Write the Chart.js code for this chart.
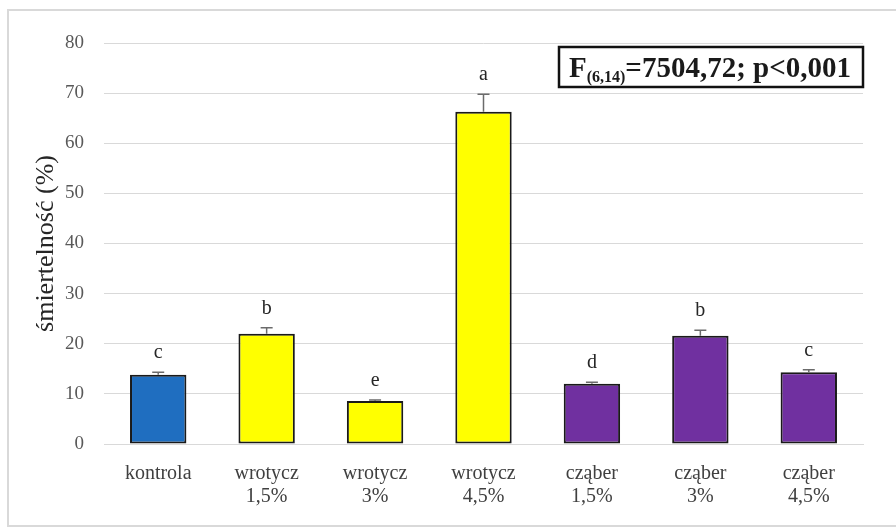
<!DOCTYPE html>
<html>
<head>
<meta charset="utf-8">
<script src="https://cdn.jsdelivr.net/npm/chart.js@4/dist/chart.umd.min.js"></script>
<style>
  html, body { margin: 0; padding: 0; background: #ffffff; }
  #wrap { width: 896px; height: 529px; position: relative; }
</style>
</head>
<body>
<div id="wrap"><canvas id="c" width="896" height="529"></canvas></div>
<script>
// Treatment groups (two-line labels)
const categories = [
  ['kontrola'],
  ['wrotycz', '1,5%'],
  ['wrotycz', '3%'],
  ['wrotycz', '4,5%'],
  ['cząber', '1,5%'],
  ['cząber', '3%'],
  ['cząber', '4,5%']
];
// Mean mortality (%) and upper error (SD)
const mortality = [13.8, 22.0, 8.6, 66.3, 12.0, 21.6, 14.3];
const errors = [0.5, 1.2, 0.2, 3.5, 0.3, 1.1, 0.5];
// Homogeneous group letters
const groupLetters = ['c', 'b', 'e', 'a', 'd', 'b', 'c'];
const yTicks = [0, 10, 20, 30, 40, 50, 60, 70, 80];
const barColors = ['#1F6EC0', '#FFFF00', '#FFFF00', '#FFFF00', '#7030A0', '#7030A0', '#7030A0'];
const statText = { main: 'F', sub: '(6,14)', rest: '=7504,72; p<0,001' };

const SERIF = '"Liberation Serif", "Times New Roman", serif';

// Outer frame of the figure
const framePlugin = {
  id: 'frame',
  beforeDraw(chart) {
    const ctx = chart.ctx;
    ctx.save();
    ctx.fillStyle = '#ffffff';
    ctx.fillRect(0, 0, chart.width, chart.height);
    ctx.strokeStyle = '#d9d9d9';
    ctx.lineWidth = 2;
    ctx.strokeRect(8, 10, chart.width + 10, 516);
    ctx.restore();
  }
};

// Upper error caps and group letters above each bar
const errorPlugin = {
  id: 'errors',
  afterDatasetsDraw(chart) {
    const ctx = chart.ctx;
    const meta = chart.getDatasetMeta(0);
    const y = chart.scales.y;
    ctx.save();
    meta.data.forEach((bar, i) => {
      const top = y.getPixelForValue(mortality[i]);
      const capY = y.getPixelForValue(mortality[i] + errors[i]);
      ctx.strokeStyle = '#6b6b6b';
      ctx.lineWidth = 1.5;
      ctx.beginPath();
      ctx.moveTo(bar.x, top);
      ctx.lineTo(bar.x, capY);
      ctx.moveTo(bar.x - 6, capY);
      ctx.lineTo(bar.x + 6, capY);
      ctx.stroke();
      ctx.fillStyle = '#262626';
      ctx.font = '20px ' + SERIF;
      ctx.textAlign = 'center';
      ctx.textBaseline = 'alphabetic';
      ctx.fillText(groupLetters[i], bar.x, capY - 14);
    });
    ctx.restore();
  }
};

// Statistics box in the upper right corner
const statPlugin = {
  id: 'stat',
  afterDraw(chart) {
    const ctx = chart.ctx;
    const area = chart.chartArea;
    const bx = area.right - 304, by = area.top + 4, bw = 304, bh = 40;
    ctx.save();
    ctx.fillStyle = '#ffffff';
    ctx.fillRect(bx, by, bw, bh);
    ctx.strokeStyle = '#111111';
    ctx.lineWidth = 2.5;
    ctx.strokeRect(bx, by, bw, bh);
    ctx.fillStyle = '#1a1a1a';
    ctx.textBaseline = 'alphabetic';
    ctx.textAlign = 'left';
    let x = bx + 10;
    const base = by + 30;
    ctx.font = 'bold 29px ' + SERIF;
    ctx.fillText(statText.main, x, base);
    x += ctx.measureText(statText.main).width;
    ctx.font = 'bold 16px ' + SERIF;
    ctx.fillText(statText.sub, x, base + 5);
    x += ctx.measureText(statText.sub).width;
    ctx.font = 'bold 29px ' + SERIF;
    ctx.fillText(statText.rest, x, base);
    ctx.restore();
  }
};

new Chart(document.getElementById('c'), {
  type: 'bar',
  data: {
    labels: categories,
    datasets: [{
      data: mortality,
      backgroundColor: barColors,
      borderColor: '#1a1a1a',
      borderWidth: 2,
      borderSkipped: false,
      categoryPercentage: 1.0,
      barPercentage: 0.52
    }]
  },
  options: {
    responsive: false,
    animation: false,
    devicePixelRatio: 1,
    layout: { padding: { left: 31, right: 33, top: 43, bottom: 0 } },
    plugins: { legend: { display: false }, tooltip: { enabled: false } },
    scales: {
      x: {
        grid: { display: false },
        border: { display: true, color: '#d9d9d9', width: 1 },
        ticks: {
          color: '#404040',
          font: { family: SERIF, size: 20, lineHeight: 1.15 },
          padding: 10,
          maxRotation: 0,
          autoSkip: false
        },
        afterFit(scale) { scale.height = 85; }
      },
      y: {
        min: 0,
        max: 80,
        afterBuildTicks(scale) { scale.ticks = yTicks.map(v => ({ value: v })); },
        grid: { color: '#d9d9d9', lineWidth: 1, drawTicks: false },
        border: { display: false },
        ticks: {
          color: '#595959',
          font: { family: SERIF, size: 19 },
          padding: 20
        },
        title: {
          display: true,
          text: 'śmiertelność (%)',
          color: '#262626',
          font: { family: SERIF, size: 26 },
          padding: { top: 0, bottom: 0 }
        },
        afterFit(scale) { scale.width = 73; }
      }
    }
  },
  plugins: [framePlugin, errorPlugin, statPlugin]
});
</script>
</body>
</html>
